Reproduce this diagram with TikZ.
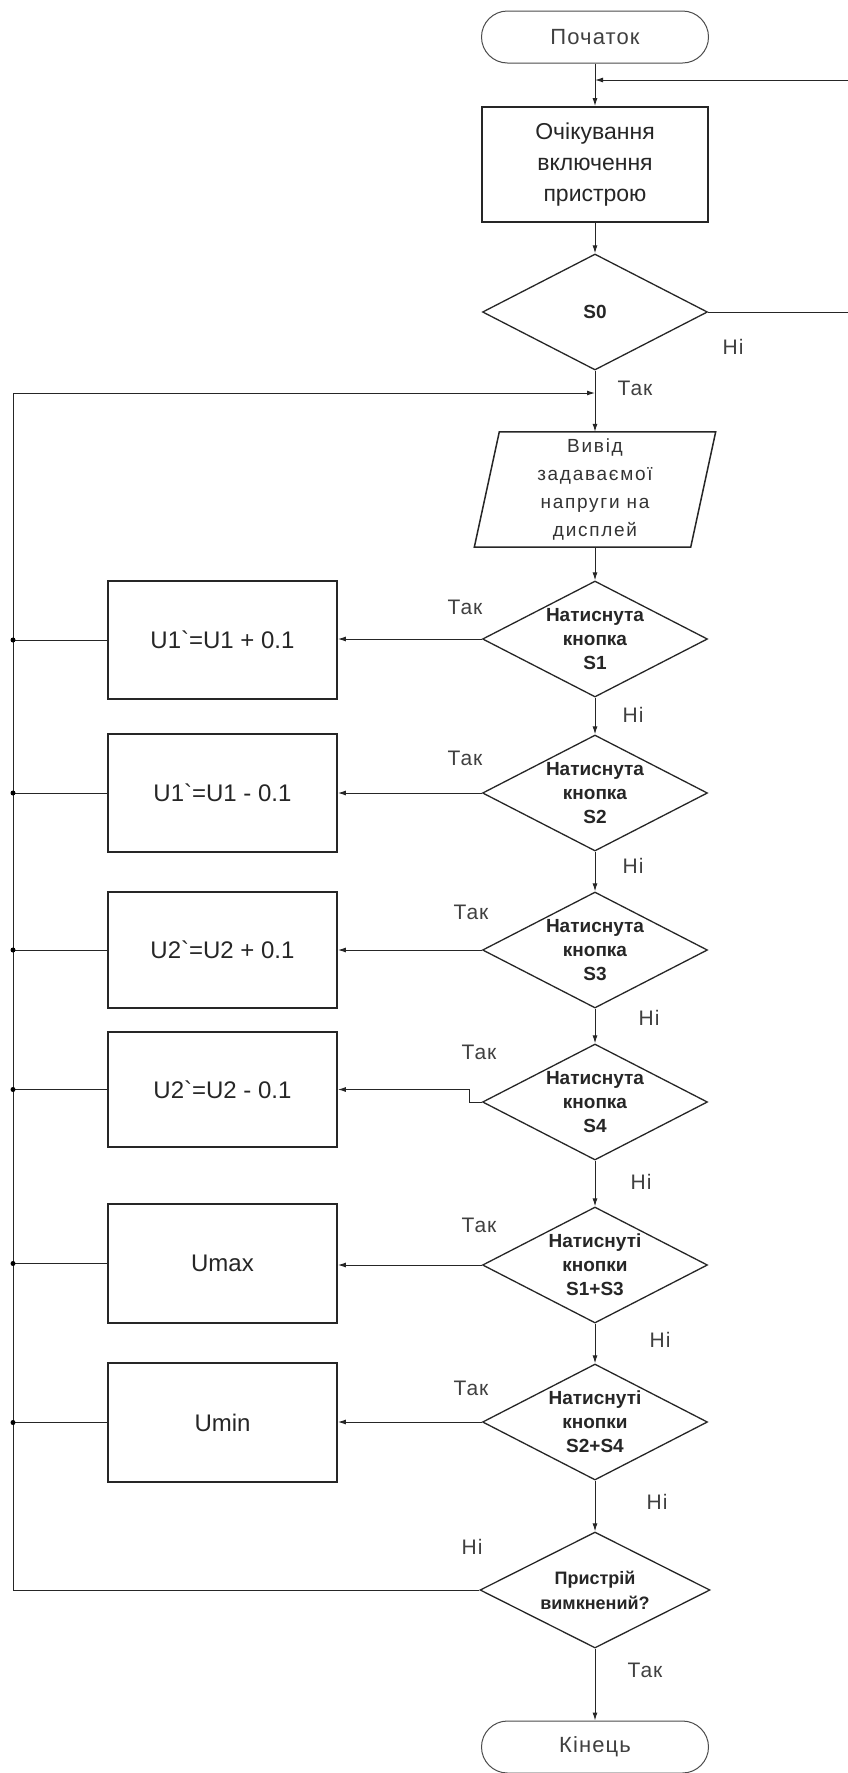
\documentclass[tikz,border=0pt]{standalone}
\usepackage{fontspec}
\setmainfont{Liberation Sans}
\newfontfamily\spacedfont[LetterSpace=5]{Liberation Sans}
\newfontfamily\iofont[LetterSpace=9]{Liberation Sans}
\newfontfamily\boxfont[Ligatures=TeXOff]{Liberation Sans}
\usetikzlibrary{shapes.geometric,arrows.meta}
\begin{document}
\begin{tikzpicture}[x=1pt,y=-1pt,
  conn/.style={draw=black!85, line width=1pt},
  arr/.style={conn, -{Latex[length=8pt,width=5pt]}},
  term/.style={draw=black!70, line width=1pt, rounded corners=26pt, minimum width=227pt, minimum height=52pt, inner sep=0pt, font=\spacedfont\fontsize{22}{26}\selectfont, text=black!75},
  procbox/.style={draw=black!85, line width=1.8pt, minimum width=229pt, minimum height=118pt, inner sep=0pt, font=\boxfont\fontsize{24}{30}\selectfont, text=black!85},
  dec/.style={diamond, draw=black!85, line width=1.3pt, minimum width=225pt, minimum height=116pt, inner sep=0pt},
  dectext/.style={font=\bfseries\fontsize{19}{24}\selectfont, align=center, inner sep=0pt, text=black!85},
  lbl/.style={font=\spacedfont\fontsize{21}{24}\selectfont, text=black!75, inner sep=0pt},
  jdot/.style={circle, fill=black, inner sep=0pt, minimum size=5pt},
]
\useasboundingbox[fill=white] (0,0) rectangle (848,1773);

% main column
\node[term] (start) at (595,37) {Початок};
\node[procbox, minimum width=226pt, minimum height=115pt, font=\fontsize{23}{31}\selectfont, align=center] (wait) at (595,164.5) {Очікування\\включення\\пристрою};
\node[dec] (s0) at (595,312) {};
\node[dectext] (s0t) at (s0) {S0};
\node[minimum width=216pt, minimum height=115pt, inner sep=0pt, font=\iofont\fontsize{19}{28}\selectfont, align=center, text=black!80] (io) at (595,489.5) {Вивід\\задаваємої\\напруги на\\дисплей};
\draw[draw=black!85, line width=1.5pt] ([xshift=12.5pt]io.north west) -- ([xshift=12.5pt]io.north east) -- ([xshift=-12.5pt]io.south east) -- ([xshift=-12.5pt]io.south west) -- cycle;

\node[dec] (s1) at (595,639) {};
\node[dectext] (s1t) at (s1) {Натиснута\\кнопка\\S1};
\node[dec] (s2) at (595,793) {};
\node[dectext] (s2t) at (s2) {Натиснута\\кнопка\\S2};
\node[dec] (s3) at (595,950) {};
\node[dectext] (s3t) at (s3) {Натиснута\\кнопка\\S3};
\node[dec] (s4) at (595,1102) {};
\node[dectext] (s4t) at (s4) {Натиснута\\кнопка\\S4};
\node[dec] (s5) at (595,1265) {};
\node[dectext] (s5t) at (s5) {Натиснуті\\кнопки\\S1+S3};
\node[dec] (s6) at (595,1422) {};
\node[dectext] (s6t) at (s6) {Натиснуті\\кнопки\\S2+S4};
\node[dec, minimum width=230pt] (off) at (595,1590) {};
\node[dectext, font=\bfseries\fontsize{18}{25}\selectfont] (offt) at (off) {Пристрій\\вимкнений?};
\node[term] (end) at (595,1747) {Кінець};

% left boxes
\node[procbox] (b1) at (222.5,640) {U1`=U1 + 0.1};
\node[procbox] (b2) at (222.5,793) {U1`=U1 - 0.1};
\node[procbox, minimum height=116pt] (b3) at (222.5,950) {U2`=U2 + 0.1};
\node[procbox, minimum height=115pt] (b4) at (222.5,1089.5) {U2`=U2 - 0.1};
\node[procbox, minimum height=119pt] (b5) at (222.5,1263.5) {Umax};
\node[procbox, minimum height=119pt] (b6) at (222.5,1422.5) {Umin};

% coordinates for loops
\coordinate (jl) at (13,393);
\coordinate (jb) at (13,1590);
\coordinate (jr) at (849,312);
\coordinate (jt) at (849,80);

% vertical flow
\draw[arr] (start.south) -- (wait.north);
\draw[arr] (wait.south) -- (s0.north);
\draw[arr] (s0.south) -- (io.north);
\draw[arr] (io.south) -- (s1.north);
\draw[arr] (s1.south) -- (s2.north);
\draw[arr] (s2.south) -- (s3.north);
\draw[arr] (s3.south) -- (s4.north);
\draw[arr] (s4.south) -- (s5.north);
\draw[arr] (s5.south) -- (s6.north);
\draw[arr] (s6.south) -- (off.north);
\draw[arr] (off.south) -- (end.north);

% right loop (S0 = Ні)
\draw[arr] (s0.east) -- (jr) -- (jt) -- (jt -| start.south);

% left loop (device not off)
\draw[arr] (off.west) -- (jb) -- (jl) -- (jl -| s0.south);

% yes branches
\draw[arr] (s1.west) -- (b1.east |- s1.west);
\draw[arr] (s2.west) -- (b2.east |- s2.west);
\draw[arr] (s3.west) -- (b3.east |- s3.west);
\draw[arr] (s4.west) -- ++(-12pt,0) |- (b4.east);
\draw[arr] (s5.west) -- (b5.east |- s5.west);
\draw[arr] (s6.west) -- (b6.east |- s6.west);

% box outputs to the left bus
\foreach \b in {b1,b2,b3,b4,b5,b6}{
  \draw[conn] (\b.west) -- (\b.west -| jl);
  \node[jdot] (d\b) at (\b.west -| jl) {};
}

% labels
\node[lbl] (l0n) at (733,347) {Ні};
\node[lbl] (l0y) at (635,388) {Так};
\node[lbl] (l1y) at (465,607) {Так};
\node[lbl] (l1n) at (633,715) {Ні};
\node[lbl] (l2y) at (465,758) {Так};
\node[lbl] (l2n) at (633,866) {Ні};
\node[lbl] (l3y) at (471,912) {Так};
\node[lbl] (l3n) at (649,1018) {Ні};
\node[lbl] (l4y) at (479,1052) {Так};
\node[lbl] (l4n) at (641,1182) {Ні};
\node[lbl] (l5y) at (479,1225) {Так};
\node[lbl] (l5n) at (660,1340) {Ні};
\node[lbl] (l6y) at (471,1388) {Так};
\node[lbl] (l6n) at (657,1502) {Ні};
\node[lbl] (lon) at (472,1547) {Ні};
\node[lbl] (loy) at (645,1670) {Так};
\end{tikzpicture}
\end{document}
